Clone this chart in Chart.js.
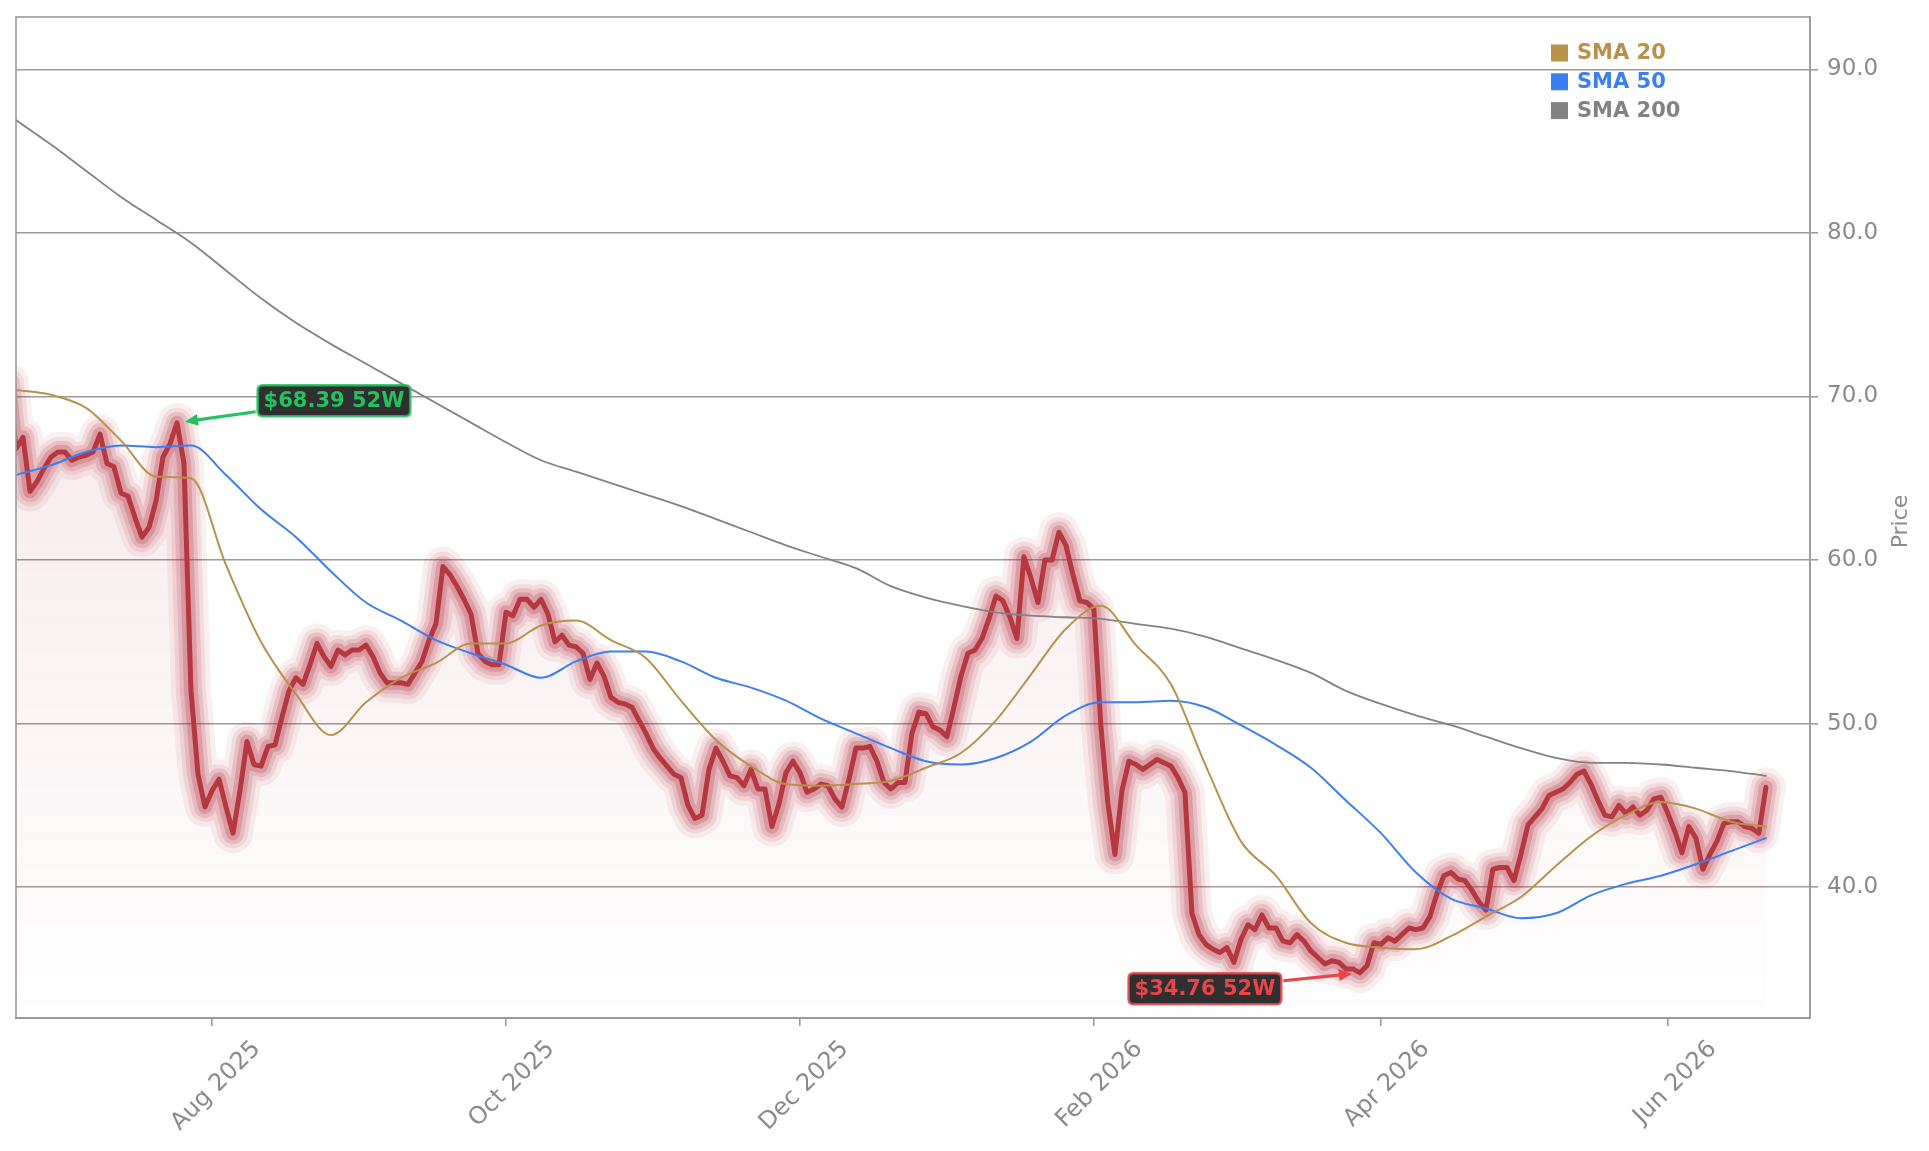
<!DOCTYPE html>
<html>
<head>
<meta charset="utf-8">
<script src="https://cdn.jsdelivr.net/npm/chart.js@4.4.1/dist/chart.umd.min.js"></script>
<style>
  html, body { margin: 0; padding: 0; background: #ffffff; }
  #wrap { width: 1929px; height: 1151px; position: relative; }
</style>
</head>
<body>
<div id="wrap"><canvas id="c"></canvas></div>
<script>
// ---- data (trading-day index k = 0..251) ----
const priceValues = [
  70.8, 66.8, 67.5, 64.2, 64.8, 65.6, 66.3, 66.6, 66.6, 66.1,
  66.3, 66.4, 66.6, 67.7, 65.9, 65.7, 64.1, 63.9, 62.6, 61.4,
  62.0, 63.6, 66.3, 67.1, 68.39, 65.9, 52.0, 46.9, 44.9, 45.9,
  46.6, 44.9, 43.3, 45.9, 48.9, 47.5, 47.4, 48.6, 48.7, 50.4,
  52.0, 52.8, 52.4, 53.6, 54.9, 54.1, 53.5, 54.5, 54.2, 54.5,
  54.5, 54.8, 54.1, 53.1, 52.5, 52.5, 52.5, 52.4, 53.1, 53.8,
  55.1, 56.1, 59.6, 59.1, 58.4, 57.6, 56.7, 54.3, 53.8, 53.6,
  53.6, 56.8, 56.6, 57.6, 57.6, 57.1, 57.6, 56.7, 55.0, 55.4,
  54.8, 54.7, 54.3, 52.7, 53.7, 52.9, 51.6, 51.3, 51.2, 51.0,
  50.2, 49.4, 48.5, 47.9, 47.4, 46.9, 46.7, 45.0, 44.2, 44.4,
  47.2, 48.5, 47.7, 46.8, 46.7, 46.2, 47.2, 46.0, 46.0, 43.7,
  45.1, 47.0, 47.7, 47.0, 45.8, 46.0, 46.3, 46.2, 45.4, 44.9,
  46.6, 48.5, 48.5, 48.6, 47.7, 46.4, 46.0, 46.4, 46.4, 49.4,
  50.7, 50.6, 49.8, 49.6, 49.2, 51.0, 52.9, 54.3, 54.5, 55.2,
  56.4, 57.8, 57.5, 56.5, 55.2, 60.2, 58.9, 57.4, 60.0, 60.0,
  61.7, 60.9, 59.1, 57.5, 57.4, 57.0, 49.8, 45.1, 42.0, 45.9,
  47.7, 47.5, 47.2, 47.5, 47.8, 47.6, 47.4, 46.7, 45.8, 38.4,
  37.1, 36.5, 36.2, 36.0, 36.3, 35.4, 36.8, 37.7, 37.4, 38.3,
  37.5, 37.5, 36.7, 36.6, 37.1, 36.7, 36.1, 35.7, 35.3, 35.5,
  35.4, 35.0, 35.0, 34.76, 35.2, 36.6, 36.5, 36.9, 36.7, 37.1,
  37.5, 37.4, 37.5, 38.2, 39.6, 40.7, 40.9, 40.5, 40.4, 39.8,
  39.1, 38.6, 41.1, 41.2, 41.2, 40.4, 42.0, 43.8, 44.3, 44.8,
  45.6, 45.8, 46.0, 46.4, 46.9, 47.1, 46.3, 45.3, 44.4, 44.3,
  45.0, 44.5, 44.9, 44.4, 44.7, 45.4, 45.5, 44.5, 43.4, 42.1,
  43.7, 43.0, 41.1, 42.0, 42.8, 43.9, 44.0, 44.0, 43.7, 43.6,
  43.3, 46.1
];

// moving averages, read every 5 trading days starting at k = 1
const smaStart = 1;
const smaStep = 5;
const sma20 = [
  70.4, 70.1, 69.3, 67.3, 65.1, 65.0, 59.7, 55.0, 51.8, 49.3,
  51.3, 52.8, 53.7, 54.9, 54.9, 56.0, 56.3, 55.1, 54.0, 51.4,
  49.0, 47.4, 46.3, 46.2, 46.3, 46.5, 47.3, 48.2, 50.2, 53.0,
  55.8, 57.2, 54.8, 52.4, 47.4, 42.8, 40.7, 37.8, 36.6, 36.3,
  36.2, 37.0, 38.2, 39.4, 41.3, 43.1, 44.4, 45.2, 44.8, 44.0,
  43.7
];
const sma50 = [
  65.2, 65.8, 66.6, 67.0, 66.9, 67.0, 65.2, 63.1, 61.4, 59.3,
  57.4, 56.3, 55.1, 54.3, 53.6, 52.8, 53.8, 54.4, 54.4, 53.8,
  52.8, 52.2, 51.4, 50.3, 49.4, 48.5, 47.7, 47.5, 47.9, 48.9,
  50.5, 51.3, 51.3, 51.4, 51.0, 49.9, 48.7, 47.3, 45.3, 43.3,
  40.9, 39.3, 38.7, 38.1, 38.4, 39.5, 40.2, 40.7, 41.4, 42.2,
  43.0
];
const sma200 = [
  86.9, 85.4, 83.8, 82.2, 80.8, 79.4, 77.7, 76.0, 74.5, 73.2,
  72.0, 70.8, 69.6, 68.4, 67.2, 66.1, 65.4, 64.7, 64.0, 63.3,
  62.5, 61.7, 60.9, 60.2, 59.5, 58.4, 57.7, 57.2, 56.8, 56.6,
  56.5, 56.4, 56.1, 55.8, 55.3, 54.6, 53.9, 53.1, 52.0, 51.2,
  50.5, 49.9, 49.2, 48.5, 47.9, 47.6, 47.6, 47.5, 47.3, 47.1,
  46.8
];

const tickIndex = [29, 71, 113, 155, 196, 237];
const tickLabels = ['Aug 2025', 'Oct 2025', 'Dec 2025', 'Feb 2026', 'Apr 2026', 'Jun 2026'];
const yTicks = [40, 50, 60, 70, 80, 90];

const legendNames = ['SMA 20', 'SMA 50', 'SMA 200'];
const highMark = { index: 24, value: 68.39, text: '$68.39 52W' };
const lowMark = { index: 193, value: 34.76, text: '$34.76 52W' };

// ---- styling ----
const FONT = "'DejaVu Sans', 'Noto Sans', sans-serif";
const C_SMA20 = '#b8914b';
const C_SMA50 = '#3b7ff2';
const C_SMA200 = '#828282';
const GRID = '#9a9a9a';

const pricePts = priceValues.map((v, k) => ({ x: k, y: v }));
const smaPts = arr => arr.map((v, j) => ({ x: smaStart + j * smaStep, y: v }));

function fillGradient(context) {
  const chart = context.chart;
  const area = chart.chartArea;
  if (!area) return 'rgba(176,40,56,0.05)';
  const g = chart.ctx.createLinearGradient(0, area.top, 0, area.bottom);
  g.addColorStop(0, 'rgba(176,40,56,0.15)');
  g.addColorStop(1, 'rgba(176,40,56,0.005)');
  return g;
}

const glowLayers = [
  { w: 40, a: 0.075 },
  { w: 30, a: 0.105 },
  { w: 22, a: 0.15 },
  { w: 14, a: 0.23 }
];

const datasets = [
  { label: 'SMA 20', data: smaPts(sma20), borderColor: C_SMA20, borderWidth: 2, order: 1, cubicInterpolationMode: 'monotone' },
  { label: 'SMA 50', data: smaPts(sma50), borderColor: C_SMA50, borderWidth: 2, order: 2, cubicInterpolationMode: 'monotone' },
  { label: 'SMA 200', data: smaPts(sma200), borderColor: C_SMA200, borderWidth: 1.8, order: 3, cubicInterpolationMode: 'monotone' },
  { label: 'Price', data: pricePts, borderColor: '#b5383f', borderWidth: 5, order: 4, tension: 0 }
];
glowLayers.slice().reverse().forEach((g, n) => {
  datasets.push({ label: 'glow', data: pricePts, borderColor: `rgba(176,40,56,${g.a})`,
    borderWidth: g.w, order: 5 + n, tension: 0 });
});
datasets.push({ label: 'fill', data: pricePts, borderWidth: 0, borderColor: 'rgba(0,0,0,0)',
  backgroundColor: fillGradient, fill: 'start', order: 20, tension: 0 });
datasets.forEach(d => {
  d.pointRadius = 0; d.pointHoverRadius = 0;
  d.borderJoinStyle = 'round'; d.borderCapStyle = 'round'; d.clip = 0;
  if (!d.fill) d.fill = false;
});

function roundRect(ctx, x, y, w, h, r) {
  ctx.beginPath();
  ctx.moveTo(x + r, y);
  ctx.lineTo(x + w - r, y); ctx.quadraticCurveTo(x + w, y, x + w, y + r);
  ctx.lineTo(x + w, y + h - r); ctx.quadraticCurveTo(x + w, y + h, x + w - r, y + h);
  ctx.lineTo(x + r, y + h); ctx.quadraticCurveTo(x, y + h, x, y + h - r);
  ctx.lineTo(x, y + r); ctx.quadraticCurveTo(x, y, x + r, y);
  ctx.closePath();
}

function drawMark(chart, mark, dx, dy, color) {
  const ctx = chart.ctx;
  const px = chart.scales.x.getPixelForValue(mark.index);
  const py = chart.scales.y.getPixelForValue(mark.value);
  const cx = px + dx, cy = py + dy;
  ctx.save();
  ctx.font = `bold 21px ${FONT}`;
  const tw = ctx.measureText(mark.text).width;
  const bw = tw + 12, bh = 31;
  const bx = cx - bw / 2, by = cy - bh / 2;
  // arrow
  const vx = px - cx, vy = py - cy;
  const len = Math.hypot(vx, vy);
  const ux = vx / len, uy = vy / len;
  const tipX = px - ux * 8, tipY = py - uy * 8;
  const tEdge = Math.min(Math.abs((bw / 2) / (ux || 1e-9)), Math.abs((bh / 2) / (uy || 1e-9)));
  const sx = cx + ux * (tEdge + 2), sy = cy + uy * (tEdge + 2);
  const headL = 13, headW = 6;
  const hx = tipX - ux * headL, hy = tipY - uy * headL;
  ctx.strokeStyle = color; ctx.fillStyle = color; ctx.lineWidth = 3.2;
  ctx.beginPath(); ctx.moveTo(sx, sy); ctx.lineTo(hx + ux * 2, hy + uy * 2); ctx.stroke();
  ctx.beginPath();
  ctx.moveTo(tipX, tipY);
  ctx.lineTo(hx - uy * headW, hy + ux * headW);
  ctx.lineTo(hx + uy * headW, hy - ux * headW);
  ctx.closePath(); ctx.fill();
  // box
  roundRect(ctx, bx, by, bw, bh, 5);
  ctx.fillStyle = '#2f2f2f'; ctx.fill();
  ctx.lineWidth = 2.5; ctx.strokeStyle = color; ctx.globalAlpha = 0.85; ctx.stroke();
  ctx.globalAlpha = 1;
  ctx.fillStyle = color; ctx.textAlign = 'center'; ctx.textBaseline = 'middle';
  ctx.fillText(mark.text, cx, cy + 1);
  ctx.restore();
}

const decorPlugin = {
  id: 'decor',
  afterDraw(chart) {
    const ctx = chart.ctx;
    const a = chart.chartArea;
    ctx.save();
    ctx.strokeStyle = GRID; ctx.lineWidth = 1.6;
    ctx.strokeRect(a.left, a.top, a.right - a.left, a.bottom - a.top);
    // legend
    const colors = [C_SMA20, C_SMA50, C_SMA200];
    ctx.font = `bold 21px ${FONT}`;
    ctx.textBaseline = 'middle'; ctx.textAlign = 'left';
    legendNames.forEach((name, i) => {
      const yc = 53 + i * 28.8;
      ctx.fillStyle = colors[i];
      ctx.fillRect(a.right - 259, yc - 8.5, 17, 17);
      ctx.fillText(name, a.right - 233, yc + 1);
    });
    // y-axis title
    ctx.translate(1901, (a.top + a.bottom) / 2 + 4);
    ctx.rotate(-Math.PI / 2);
    ctx.font = `22px ${FONT}`;
    ctx.fillStyle = '#8a8a8a'; ctx.textAlign = 'center';
    ctx.fillText('Price', 0, 0);
    ctx.restore();
    drawMark(chart, highMark, 157, -22, '#22c35e');
    drawMark(chart, lowMark, -155, 16, '#e8454b');
  }
};

new Chart(document.getElementById('c'), {
  type: 'line',
  data: { datasets },
  plugins: [decorPlugin],
  options: {
    responsive: true,
    maintainAspectRatio: false,
    devicePixelRatio: 1,
    animation: false,
    events: [],
    layout: { padding: { left: 16, top: 17, right: 0, bottom: 0 } },
    plugins: { legend: { display: false }, tooltip: { enabled: false }, title: { display: false } },
    scales: {
      x: {
        type: 'linear', position: 'bottom', min: 1, max: 257.3,
        grid: { drawOnChartArea: false, drawTicks: true, tickLength: 8, color: GRID, lineWidth: 1.6 },
        border: { display: true, color: GRID, width: 2 },
        afterBuildTicks: s => { s.ticks = tickIndex.map(v => ({ value: v })); },
        afterFit: s => { s.height = 133; s.paddingLeft = 0; s.paddingRight = 0; },
        ticks: {
          autoSkip: false, minRotation: 45, maxRotation: 45,
          labelOffset: 45, padding: 9,
          color: '#8a8a8a', font: { family: FONT, size: 24 },
          callback: v => tickLabels[tickIndex.indexOf(v)] ?? ''
        }
      },
      y: {
        type: 'linear', position: 'right', min: 32, max: 93.2,
        grid: {
          color: c => (c.tick && c.tick.value === 40 ? '#ad9696' : GRID),
          lineWidth: 1.6, tickLength: 8, drawTicks: true
        },
        border: { display: true, color: GRID, width: 1.6 },
        afterBuildTicks: s => { s.ticks = yTicks.map(v => ({ value: v })); },
        afterFit: s => { s.width = 119; s.paddingTop = 0; s.paddingBottom = 0; },
        ticks: {
          padding: 9, color: '#8a8a8a', font: { family: FONT, size: 23 },
          callback: v => Number(v).toFixed(1)
        }
      }
    }
  }
});
</script>
</body>
</html>
